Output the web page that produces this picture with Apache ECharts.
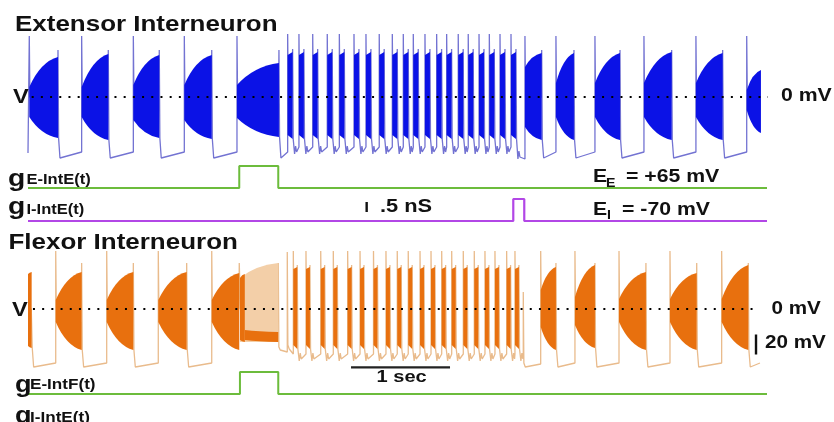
<!DOCTYPE html>
<html><head><meta charset="utf-8">
<script src="https://cdn.jsdelivr.net/npm/echarts@6/dist/echarts.min.js"></script>
<style>html,body{margin:0;padding:0;background:#fff}#c{width:834px;height:422px}</style>
</head><body><div id="c"></div>
<script>
// ---------------- data: time in s, membrane potential in mV, conductance in nS ----------------
const timeMax = 7.465;

// big bursts: [tStart, tEnd, topAtStart, bottomAtStart, topAtEnd, bottomAtEnd]
const extBigBursts = [
  [0.013, 0.303, 10, -20, 40, -41],
  [0.542, 0.811, 10, -20, 43, -43],
  [1.064, 1.326, 12, -23, 42, -41],
  [1.579, 1.856, 12, -23, 42, -42],
  [2.111, 2.535, 12, -21, 34, -40],
  [5.020, 5.189, 30, -30, 44, -43],
  [5.333, 5.515, 14, -20, 44, -43],
  [5.727, 5.980, 14, -20, 44, -43],
  [6.222, 6.502, 14, -20, 45, -43],
  [6.747, 7.017, 14, -20, 44, -43],
  [7.260, 7.404, 7, -13, 27, -36]
];
// fast bursts: start times
const extFastBursts = [2.623, 2.737, 2.876, 3.023, 3.145, 3.293, 3.414, 3.548, 3.680, 3.791,
  3.892, 4.010, 4.128, 4.229, 4.346, 4.447, 4.556, 4.660, 4.768, 4.879];
// voltage levels
const extLevels = { start: -56, peak: 61, endPeak: 47, trough: -61, preSpike: -55,
  fastPeak: 63, fastEndPeak: 48, fastTop: [42, 45], fastBottom: [-38, -42], fastTrough: -57, fastPreSpike: -50,
  inhibited: -62, fastDur: 0.05 };

const flexBigBursts = [
  [0.000, 0.037, 35, -37, 37, -39],
  [0.280, 0.542, 9, -13, 37, -41],
  [0.795, 1.064, 9, -13, 37, -41],
  [1.316, 1.603, 9, -13, 37, -41],
  [1.856, 2.134, 9, -13, 36, -41],
  [5.179, 5.333, 19, -18, 42, -41],
  [5.525, 5.727, 12, -16, 44, -39],
  [5.970, 6.242, 10, -13, 37, -41],
  [6.485, 6.755, 10, -13, 36, -41],
  [7.007, 7.276, 10, -13, 44, -41]
];
const flexFastBursts = [2.680, 2.808, 2.957, 3.084, 3.229, 3.354, 3.490, 3.616, 3.730, 3.841,
  3.960, 4.071, 4.179, 4.280, 4.397, 4.508, 4.616, 4.717, 4.835, 4.919];
// isolated spikes: [t, peak, troughAfter, levelBeforeNext]
const flexLoneSpikes = [[2.619, 57, -40, -45], [5.003, 17, -58, -55]];
// irregular firing during the excitatory pulse
const flexTransLight = [[2.141, 2.528, 31, -33, 46, -33]];
const flexTransDark = [[2.141, 2.190, 31, -31, 35, -33], [2.190, 2.528, -21, -31, -23, -33]];
const flexTransSpikes = { peak: 44, endPeak: 46, bottom: -38, trough: -41, preSpike: -43 };
const flexLevels = { peak: 58, endPeak: 46, trough: -58, preSpike: -54,
  fastPeak: 58, fastEndPeak: 44, fastTop: [40, 42], fastBottom: [-36, -40], fastTrough: -52, fastPreSpike: -45,
  fastDur: 0.04, end: 7.394 };

// conductance pulses [on, off] and amplitude (nS)
const gEIntEPulse = [2.134, 2.528];
const gIIntEPulse = [4.902, 5.013];
const gEIntFPulse = [2.141, 2.528];
const gPulseAmp = 1.1;

// scale bars
const secBar = [3.263, 4.263, -58.3];   // 1 s, at -58.3 mV of the flexor panel
const mvBar = [7.354, -25.5, -45.5];    // 20 mV
const nsBar = [3.421, 0.45, 0.95];      // 0.5 nS

// ---------------- build ----------------
function pulse(p) { return [[0, 0], [p[0], 0], [p[0], gPulseAmp], [p[1], gPulseAmp], [p[1], 0], [timeMax, 0]]; }

function makeCycles(big, fast, L, extra) {
  const c = [];
  big.forEach(b => c.push({ s: b[0], e: b[1], peak: b[0] > 0 ? L.peak : null, endPeak: b[0] > 0 ? L.endPeak : null,
    bottom: b[5], lo: L.trough, hi: L.preSpike }));
  fast.forEach(s => c.push({ s, e: s + L.fastDur, peak: L.fastPeak, endPeak: L.fastEndPeak,
    bottom: L.fastBottom[1], lo: L.fastTrough, hi: L.fastPreSpike, bump: true }));
  (extra || []).forEach(x => c.push(x));
  c.sort((a, b) => a.s - b.s);
  if (L.inhibit) {
    for (let i = 0; i < c.length - 1; i++) {
      if (c[i].e <= L.inhibit[1] && c[i + 1].s >= L.inhibit[0]) { c[i].lo = L.inhibited; c[i].hi = L.inhibited; }
    }
  }
  return c;
}

function buildTrace(cycles, L) {
  const pts = [];
  cycles.forEach((c, i) => {
    const next = cycles[i + 1];
    if (i === 0 && c.s > 0) { pts.push([0, L.start]); pts.push([c.s, L.start]); }
    if (c.peak != null) pts.push([c.s, c.peak]);
    if (c.e > c.s) { pts.push([c.s + 0.006, 0]); pts.push([c.e - 0.004, 0]); }
    const stop = next ? next.s : L.end;
    if (stop == null) return;
    if (c.endPeak != null) pts.push([c.e, c.endPeak]);
    if (stop - c.e < 0.03) return;
    pts.push([c.e + 0.006, c.bottom]);
    pts.push([c.e + 0.02, c.lo]);
    if (c.bump) { pts.push([c.e + 0.03, c.lo + 8]); pts.push([c.e + 0.04, c.lo + 2]); }
    pts.push([stop, c.hi]);
  });
  return pts;
}

const extCycles = makeCycles(extBigBursts, extFastBursts, Object.assign({ inhibit: gIIntEPulse }, extLevels));
const extTrace = buildTrace(extCycles, extLevels);

const flexExtra = flexLoneSpikes.map(s => ({ s: s[0], e: s[0], peak: s[1], endPeak: null, bottom: s[2] + 4, lo: s[2], hi: s[3] }))
  .concat(flexTransLight.map(t => ({ s: t[0], e: t[1], peak: flexTransSpikes.peak, endPeak: flexTransSpikes.endPeak,
    bottom: flexTransSpikes.bottom, lo: flexTransSpikes.trough, hi: flexTransSpikes.preSpike })));
const flexCycles = makeCycles(flexBigBursts, flexFastBursts, flexLevels, flexExtra);
const flexTrace = buildTrace(flexCycles, flexLevels);

// ---------------- rendering helpers ----------------
const BLUE = '#0b12e6', BLUE_LINE = '#7373d2';
const ORANGE = '#e8700e', ORANGE_LINE = '#e9bb8c', ORANGE_LIGHT = '#f3cfa8';
const GREEN = '#6cbc3c', PURPLE = '#b247e6';
const FONT = '"Liberation Sans", Arial, Helvetica, sans-serif';
const SX = 1.18;

function burstItem(color) {
  return function (params, api) {
    const s = api.value(0), e = api.value(1);
    const a0 = api.coord([s, api.value(2)]), b0 = api.coord([s, api.value(3)]);
    const a1 = api.coord([e, api.value(4)]), b1 = api.coord([e, api.value(5)]);
    const ctl = (p, q) => [p[0] + (q[0] - p[0]) * 0.4, p[1] + (q[1] - p[1]) * 0.85];
    const f = p => p[0].toFixed(2) + ' ' + p[1].toFixed(2);
    const d = 'M' + f(a0) + ' Q' + f(ctl(a0, a1)) + ' ' + f(a1) + ' L' + f(b1) +
      ' Q' + f(ctl(b0, b1)) + ' ' + f(b0) + ' Z';
    return { type: 'path', shape: { pathData: d }, style: { fill: color } };
  };
}
function fastItem(color, L) {
  return function (params, api) {
    const s = api.value(0), e = s + L.fastDur;
    const pts = [[s, L.fastTop[0]], [e, L.fastTop[1]], [e, L.fastBottom[1]], [s, L.fastBottom[0]]].map(p => api.coord(p));
    return { type: 'polygon', shape: { points: pts }, style: { fill: color } };
  };
}
function lineSeries(name, gi, data, color, width, z, extra) {
  return Object.assign({ name, type: 'line', xAxisIndex: gi, yAxisIndex: gi, data, showSymbol: false, symbol: 'none',
    lineStyle: { color, width }, z, silent: true, animation: false }, extra || {});
}
function customSeries(name, gi, data, renderItem, z) {
  return { name, type: 'custom', xAxisIndex: gi, yAxisIndex: gi, data, renderItem, z, silent: true, animation: false };
}
function label(text, x, y, size) {
  return { type: 'text', x, y, scaleX: SX, z: 100, silent: true,
    style: { text, font: 'bold ' + size + 'px ' + FONT, fill: '#111', align: 'left', textAlign: 'left',
      verticalAlign: 'middle', textVerticalAlign: 'middle' } };
}

const grids = [
  { left: 28, width: 739, top: 27, height: 140 },   // extensor V
  { left: 28, width: 739, top: 163, height: 25 },   // gE-IntE
  { left: 28, width: 739, top: 196, height: 25 },   // gI-IntE
  { left: 28, width: 739, top: 239, height: 140 },  // flexor V
  { left: 28, width: 739, top: 369, height: 25 }    // gE-IntF
];
const yRanges = [[-70, 70], [0, 1.25], [0, 1.25], [-70, 70], [0, 1.25]];

const dotted = { type: [2, 7.2], width: 2, color: '#000', cap: 'butt' };

const option = {
  backgroundColor: '#fff',
  animation: false,
  grid: grids.map(g => Object.assign({ containLabel: false, outerBoundsMode: 'none' }, g)),
  xAxis: grids.map((g, i) => ({ type: 'value', gridIndex: i, min: 0, max: timeMax, show: false })),
  yAxis: grids.map((g, i) => ({ type: 'value', gridIndex: i, min: yRanges[i][0], max: yRanges[i][1], show: false })),
  series: [
    lineSeries('extensor V', 0, extTrace, BLUE_LINE, 1.3, 2),
    customSeries('extensor bursts', 0, extBigBursts, burstItem(BLUE), 3),
    customSeries('extensor fast bursts', 0, extFastBursts.map(t => [t]), fastItem(BLUE, extLevels), 3),
    lineSeries('extensor 0 mV', 0, [[0.037, 0], [7.53, 0]], '#000', 2, 5, { lineStyle: dotted, clip: false }),
    lineSeries('gE-IntE', 1, pulse(gEIntEPulse), GREEN, 2, 2),
    lineSeries('gI-IntE', 2, pulse(gIIntEPulse), PURPLE, 2.2, 2),
    lineSeries('0.5 nS bar', 2, [[nsBar[0], nsBar[1]], [nsBar[0], nsBar[2]]], '#111', 2.4, 2),
    lineSeries('flexor V', 3, flexTrace, ORANGE_LINE, 1.3, 2),
    customSeries('flexor transition', 3, flexTransLight, burstItem(ORANGE_LIGHT), 3),
    customSeries('flexor transition dense', 3, flexTransDark, burstItem(ORANGE), 4),
    customSeries('flexor bursts', 3, flexBigBursts, burstItem(ORANGE), 3),
    customSeries('flexor fast bursts', 3, flexFastBursts.map(t => [t]), fastItem(ORANGE, flexLevels), 3),
    lineSeries('flexor 0 mV', 3, [[0.05, 0], [7.374, 0]], '#000', 2, 5, { lineStyle: dotted, clip: false }),
    lineSeries('1 sec bar', 3, [[secBar[0], secBar[2]], [secBar[1], secBar[2]]], '#222', 2.2, 5),
    lineSeries('20 mV bar', 3, [[mvBar[0], mvBar[1]], [mvBar[0], mvBar[2]]], '#111', 2.4, 5, { clip: false }),
    lineSeries('gE-IntF', 4, pulse(gEIntFPulse), GREEN, 2, 2)
  ],
  graphic: { elements: [
    label('Extensor Interneuron', 15, 24.5, 22),
    label('V', 13, 97, 20),
    label('0 mV', 781, 96.5, 18),
    label('g', 8, 179.5, 24),
    label('E-IntE(t)', 26.5, 180.5, 14),
    label('g', 8, 207, 24),
    label('I-IntE(t)', 26.5, 210.5, 14),
    label('.5 nS', 380, 206.7, 18.5),
    label('E', 593, 177, 18),
    label('E', 606, 184, 12),
    label('= +65 mV', 626, 177, 18),
    label('E', 593, 210.3, 18),
    label('I', 607, 216, 12),
    label('= -70 mV', 622, 210.3, 18),
    label('Flexor Interneuron', 8.5, 242.5, 22),
    label('V', 12, 310, 20),
    label('0 mV', 771.5, 309.5, 17.5),
    label('20 mV', 765, 343.5, 17.5),
    label('1 sec', 376.5, 377.5, 17),
    label('g', 15, 385.5, 23),
    label('E-IntF(t)', 30, 385, 14.5),
    label('g', 15, 416.5, 23),
    label('I-IntE(t)', 30, 418, 14.5)
  ] }
};

const chart = echarts.init(document.getElementById('c'), null, { renderer: 'canvas' });
chart.setOption(option);
</script>
</body></html>
